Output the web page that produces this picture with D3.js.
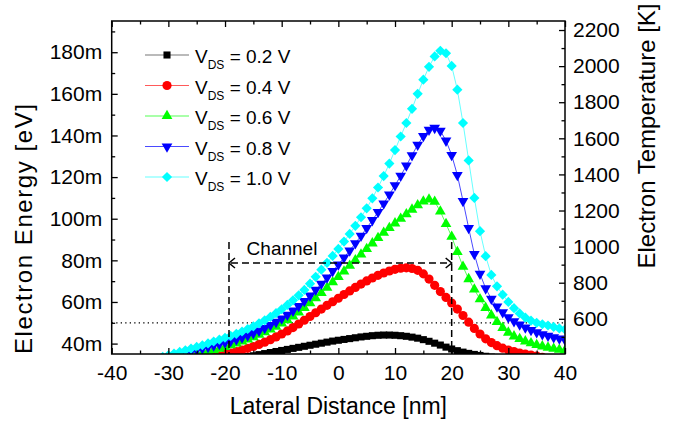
<!DOCTYPE html>
<html>
<head>
  <meta charset="utf-8">
  <script src="https://cdn.jsdelivr.net/npm/d3@7"></script>
  <style>
    body { margin: 0; background: #fff; }
    text { font-family: "Liberation Sans", Arial, sans-serif; fill: #000; }
  </style>
</head>
<body>
<script>
// lateral position of every simulation point [nm]
var distance = [-40,-39,-38,-37,-36,-35,-34,-33,-32,-31,-30,-29,-28,-27,-26,-25,-24,-23,-22,-21,
  -20,-19,-18,-17,-16,-15,-14,-13,-12,-11,-10,-9,-8,-7,-6,-5,-4,-3,-2,-1,
  0,1,2,3,4,5,6,7,8,9,10,11,12,13,14,15,16,17,18,19,
  20,21,22,23,24,25,26,27,28,29,30,31,32,33,34,35,36,37,38,39,40];

// electron energy [meV] for each drain bias
var vds02 = [26.2,26.5,26.8,27.1,27.4,27.7,28,28.3,28.6,28.9,29.2,29.5,29.8,30.1,30.4,30.7,31,31.3,31.6,31.9,
  32.2,32.6,33,33.4,33.8,34.2,34.7,35.2,35.7,36.2,36.7,37.2,37.7,38.2,38.7,39.2,39.7,40.2,40.7,41.2,
  41.6,42,42.4,42.8,43.2,43.5,43.8,44,44.1,44.1,44,43.8,43.5,43.1,42.6,41.9,41.1,40.2,39.3,38.3,
  37.4,36.6,35.9,35.3,34.8,34.3,33.9,33.5,33.1,32.8,32.5,32.2,31.9,31.6,31.3,31,30.7,30.4,30.1,29.8,29.5];
var vds04 = [24,24.5,25,25.5,26,26.5,27,27.5,28,28.5,29,29.5,30,30.5,31,31.6,32.2,32.8,33.4,34.1,
  34.8,35.5,36.2,36.9,37.7,38.6,39.6,40.7,41.9,43.2,44.6,46.1,47.7,49.4,51.2,53,54.8,56.6,58.4,60.1,
  61.8,63.6,65.3,67,68.6,70.1,71.5,72.8,73.9,74.9,75.7,76.2,76.4,76.1,75.2,73.5,71,68,65,62.2,
  59.5,56.6,53.5,50.3,47.3,44.6,42.3,40.5,39,37.8,36.9,36.2,35.5,35,34.5,34,33.4,32.8,32.3,31.8,31.3];
var vds06 = [24.3,25,25.7,26.4,27.1,27.8,28.5,29.2,29.9,30.6,31.3,32,32.7,33.4,34.1,34.8,35.5,36.2,36.9,37.6,
  38.4,39.2,40.1,41,42,43.1,44.3,45.5,46.8,48.2,49.7,51.3,53.1,55,57.1,59.4,61.8,64.3,66.9,69.5,
  72,74.7,77.4,80.1,82.8,85.5,88.2,90.8,93.3,95.6,97.8,100,102.2,104.4,106.5,108.3,109.3,108.2,103.5,97.5,
  91.4,84,77,71,66,61.3,57.2,53.6,50.4,47.6,45.3,43.5,42.2,41.1,40.2,39.4,38.7,38.1,37.6,37.1,36.7];
var vds08 = [26.5,27.2,27.9,28.6,29.3,30,30.7,31.4,32.1,32.8,33.5,34.2,34.9,35.6,36.3,37,37.7,38.4,39.1,39.8,
  40.5,41.2,42,42.9,43.9,45,46.2,47.5,48.9,50.4,52,53.8,55.8,58,60.4,63,65.8,68.7,71.7,74.8,
  78,81.3,84.7,88.2,91.8,95.5,99.3,103.2,107.3,111.6,116,120.6,125.5,130.5,135.5,139.7,142.7,143.6,142.2,137.5,
  130.6,121,108.5,95.5,83,73.5,66.5,61.5,57.8,55,52.6,50.7,49.1,47.7,46.5,45.4,44.5,43.7,43,42.4,41.8];
var vds10 = [27,27.7,28.4,29.1,29.8,30.5,31.2,32,32.8,33.6,34.4,35.2,36,36.8,37.6,38.4,39.2,40.1,41,41.9,
  42.8,43.7,44.7,45.8,47,48.3,49.7,51.2,52.8,54.6,56.5,58.6,60.8,63.2,65.8,68.8,72.1,75.5,78.8,82.1,
  85.5,89,92.7,96.6,100.7,105,109.8,115,120.5,126.5,133,139.5,146,152.8,160,166.8,173,178,180.7,179.5,
  173.4,162,146,128,110,94,82,73,67.5,63.5,60,57,54.5,52.5,51,50,49.3,48.7,48,47.3,46.8];

var seriesNames = ["0.2", "0.4", "0.6", "0.8", "1.0"];
var seriesValues = [vds02, vds04, vds06, vds08, vds10];

// tick labels
var xTicks = [-40,-30,-20,-10,0,10,20,30,40];
var xMinor = [-35,-25,-15,-5,5,15,25,35];
var yTicks = [40,60,80,100,120,140,160,180];
var yMinor = [50,70,90,110,130,150,170,190];
var tTicks = [600,800,1000,1200,1400,1600,1800,2000,2200];
var tMinor = [500,700,900,1100,1300,1500,1700,1900,2100];

var channelEdges = [-19.3, 20];   // nm
var referenceLevel = 50;          // meV

var colors = ["#000000", "#ff0000", "#00ff00", "#0000ff", "#00ffff"];
var lineColors = ["#777777", "#ff5a5a", "#55ff55", "#4a4aff", "#66ffff"];

var W = 679, H = 424;
var pL = 111.7, pR = 565, pT = 21, pB = 354;

var x = d3.scaleLinear().domain([-40, 40]).range([pL, pR]);
var y = d3.scaleLinear().domain([35, 195]).range([pB, pT]);
var yT = d3.scaleLinear().domain([405, 2250]).range([pB, pT]);

var svg = d3.select("body").append("svg")
  .attr("width", W).attr("height", H);

svg.append("clipPath").attr("id", "plot")
  .append("rect")
  .attr("x", pL).attr("y", pT)
  .attr("width", pR - pL).attr("height", pB - pT);

// marker shapes
function markerPath(i) {
  if (i == 0) return d3.symbol().type(d3.symbolSquare).size(50)();
  if (i == 1) return d3.symbol().type(d3.symbolCircle).size(66)();
  if (i == 2 || i == 3) return d3.symbol().type(d3.symbolTriangle).size(50)();
  return d3.symbol().type(d3.symbolSquare).size(52)();
}
function markerRotate(i) {
  if (i == 3) return " rotate(180)";
  if (i == 4) return " rotate(45)";
  return "";
}

// reference level
svg.append("line")
  .attr("x1", pL).attr("x2", pR)
  .attr("y1", y(referenceLevel)).attr("y2", y(referenceLevel))
  .attr("stroke", "#000").attr("stroke-width", 1.2)
  .attr("stroke-dasharray", "1.3,3.2");

var plot = svg.append("g").attr("clip-path", "url(#plot)");

var line = d3.line()
  .x(function(d, i) { return x(distance[i]); })
  .y(function(d) { return y(d); });

seriesValues.forEach(function(vals, k) {
  plot.append("path")
    .attr("d", line(vals))
    .attr("fill", "none")
    .attr("stroke", lineColors[k])
    .attr("stroke-width", 1);
  plot.selectAll(".m" + k)
    .data(vals)
    .enter().append("path")
    .attr("class", "m" + k)
    .attr("d", markerPath(k))
    .attr("transform", function(d, i) {
      return "translate(" + x(distance[i]) + "," + y(d) + ")" + markerRotate(k);
    })
    .attr("fill", colors[k]);
});

// channel annotation
var arrowY = 263;
channelEdges.forEach(function(c) {
  svg.append("line")
    .attr("x1", x(c)).attr("x2", x(c))
    .attr("y1", 242).attr("y2", pB)
    .attr("stroke", "#000").attr("stroke-width", 1.5)
    .attr("stroke-dasharray", "7,4");
});
svg.append("line")
  .attr("x1", x(channelEdges[0]) + 2).attr("x2", x(channelEdges[1]) - 2)
  .attr("y1", arrowY).attr("y2", arrowY)
  .attr("stroke", "#000").attr("stroke-width", 1.5)
  .attr("stroke-dasharray", "7,4");
var xa = x(channelEdges[0]), xb = x(channelEdges[1]);
svg.append("path")
  .attr("d", "M" + (xa + 6) + "," + (arrowY - 5) + "L" + xa + "," + arrowY + "L" + (xa + 6) + "," + (arrowY + 5))
  .attr("fill", "none").attr("stroke", "#000").attr("stroke-width", 1.5);
svg.append("path")
  .attr("d", "M" + (xb - 6) + "," + (arrowY - 5) + "L" + xb + "," + arrowY + "L" + (xb - 6) + "," + (arrowY + 5))
  .attr("fill", "none").attr("stroke", "#000").attr("stroke-width", 1.5);
svg.append("text")
  .attr("x", 282).attr("y", 255)
  .attr("text-anchor", "middle")
  .style("font-size", "19px")
  .text("Channel");

// axes
function styleAxis(g) {
  g.select(".domain").remove();
  g.selectAll("line").attr("stroke", "#000").attr("stroke-width", 1.3);
  g.selectAll("text").style("font-size", "21px").attr("fill", "#000")
    .style("font-family", '"Liberation Sans", Arial, sans-serif');
}
var plain = function(d) { return String(d); };

svg.append("g").attr("transform", "translate(0," + pB + ")")
  .call(d3.axisBottom(x).tickValues(xTicks).tickSize(-6).tickPadding(11.5).tickFormat(plain))
  .call(styleAxis);
svg.append("g").attr("transform", "translate(0," + pB + ")")
  .call(d3.axisBottom(x).tickValues(xMinor).tickSize(-3.5).tickFormat(""))
  .call(styleAxis);
svg.append("g").attr("transform", "translate(0," + pT + ")")
  .call(d3.axisTop(x).tickValues(xTicks).tickSize(-6).tickFormat(""))
  .call(styleAxis);
svg.append("g").attr("transform", "translate(0," + pT + ")")
  .call(d3.axisTop(x).tickValues(xMinor).tickSize(-3.5).tickFormat(""))
  .call(styleAxis);

svg.append("g").attr("transform", "translate(" + pL + ",0)")
  .call(d3.axisLeft(y).tickValues(yTicks).tickSize(-6).tickPadding(9.5)
    .tickFormat(function(d) { return d + "m"; }))
  .call(styleAxis);
svg.append("g").attr("transform", "translate(" + pL + ",0)")
  .call(d3.axisLeft(y).tickValues(yMinor).tickSize(-3.5).tickFormat(""))
  .call(styleAxis);

svg.append("g").attr("transform", "translate(" + pR + ",0)")
  .call(d3.axisRight(yT).tickValues(tTicks).tickSize(-6).tickPadding(8).tickFormat(plain))
  .call(styleAxis);
svg.append("g").attr("transform", "translate(" + pR + ",0)")
  .call(d3.axisRight(yT).tickValues(tMinor).tickSize(-3.5).tickFormat(""))
  .call(styleAxis);

svg.append("rect")
  .attr("x", pL).attr("y", pT)
  .attr("width", pR - pL).attr("height", pB - pT)
  .attr("fill", "none").attr("stroke", "#000").attr("stroke-width", 1.5);

// axis titles
svg.append("text")
  .attr("x", (pL + pR) / 2).attr("y", 414)
  .attr("text-anchor", "middle")
  .style("font-size", "23px")
  .text("Lateral Distance [nm]");
svg.append("text")
  .attr("transform", "translate(32,229) rotate(-90)")
  .attr("text-anchor", "middle")
  .attr("textLength", 250)
  .attr("lengthAdjust", "spacing")
  .style("font-size", "24px")
  .text("Electron Energy [eV]");
svg.append("text")
  .attr("transform", "translate(655,136) rotate(-90)")
  .attr("text-anchor", "middle")
  .style("font-size", "24px")
  .text("Electron Temperature [K]");

// legend
var legend = svg.append("g");
seriesNames.forEach(function(name, k) {
  var ly = 55 + k * 30.5;
  legend.append("line")
    .attr("x1", 145).attr("x2", 189)
    .attr("y1", ly).attr("y2", ly)
    .attr("stroke", lineColors[k]).attr("stroke-width", 1.2);
  legend.append("path")
    .attr("d", markerPath(k))
    .attr("transform", "translate(167," + ly + ")" + markerRotate(k))
    .attr("fill", colors[k]);
  var t = legend.append("text")
    .attr("x", 195).attr("y", ly + 8)
    .style("font-size", "19px");
  t.append("tspan").text("V");
  t.append("tspan").attr("dy", 6).style("font-size", "12px").text("DS");
  t.append("tspan").attr("dy", -6).text(" = " + name + " V");
});
</script>
</body>
</html>
